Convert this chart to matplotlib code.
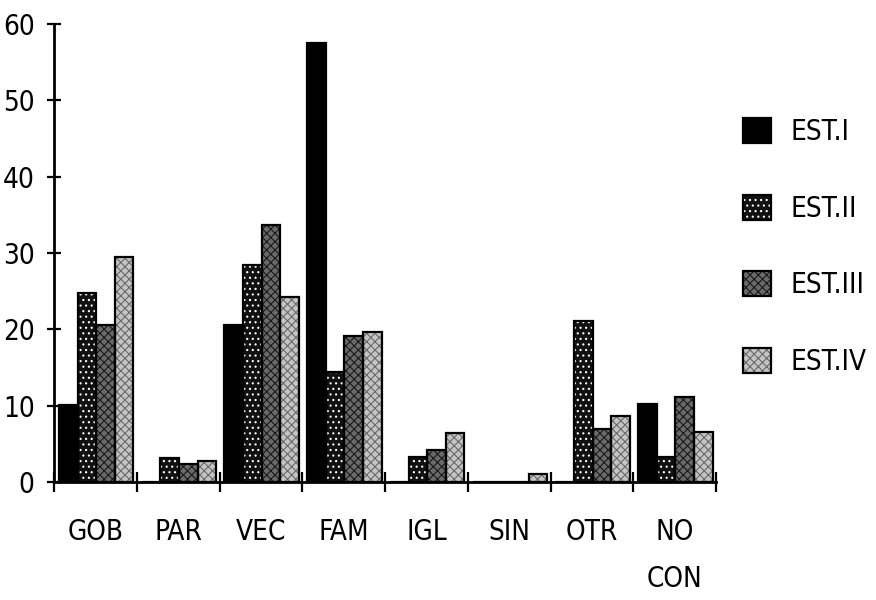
import numpy as np
import matplotlib
matplotlib.use("Agg")
import matplotlib.pyplot as plt

categories = ["GOB", "PAR", "VEC", "FAM", "IGL", "SIN", "OTR", "NO\nCON"]
series_names = ["EST.I", "EST.II", "EST.III", "EST.IV"]
est_i = [10.1, 0, 20.6, 57.5, 0, 0, 0, 10.2]
est_ii = [24.7, 3.1, 28.4, 14.4, 3.3, 0, 21.1, 3.3]
est_iii = [20.6, 2.3, 33.7, 19.1, 4.2, 0, 7.0, 11.2]
est_iv = [29.5, 2.7, 24.2, 19.6, 6.4, 1.1, 8.6, 6.5]
series = [est_i, est_ii, est_iii, est_iv]
yticks = [0, 10, 20, 30, 40, 50, 60]

plt.rcParams['hatch.linewidth'] = 0.8
FAM = ['Liberation Sans Narrow', 'DejaVu Sans']
fprops = dict(family=FAM, stretch='condensed')

# (face, hatch, hatch colour)
styles = [
    ('black', None, None),
    ('#111111', '...', 'white'),
    ('#6a6a6a', 'xxxx', '#1a1a1a'),
    ('#c4c4c4', 'xxxx', '#6a6a6a'),
]

fig = plt.figure(figsize=(8.76, 6.0), dpi=100)
ax = fig.add_axes([54/876, 1-482/600, (716-54)/876, (482-24)/600])

x = np.arange(len(categories))
w = 0.225
handles = []
for i, (vals, (fc, hatch, hc)) in enumerate(zip(series, styles)):
    pos = x + (i - 1.5) * w + 0.01
    b1 = ax.bar(pos, vals, w, color=fc, edgecolor=hc if hc else fc,
                hatch=hatch, linewidth=0, zorder=2)
    b2 = ax.bar(pos, vals, w, fill=False, edgecolor='black',
                linewidth=1.6, zorder=3)
    handles.append((b1[0], b2[0]))

ax.set_xlim(-0.5, len(categories) - 0.5)
ax.set_ylim(0, 60)
ax.set_yticks(yticks)
ax.set_yticklabels([str(t) for t in yticks], fontsize=20, **fprops)
ax.set_xticks(x)
ax.set_xticklabels(categories, fontsize=20, linespacing=1.85, **fprops)
ax.set_xticks(np.arange(len(categories) + 1) - 0.5, minor=True)
ax.tick_params(axis='x', which='major', length=0, pad=26)
ax.tick_params(axis='x', which='minor', length=14, width=1.6,
               direction='inout', color='black')
ax.tick_params(axis='y', length=10, width=1.6, direction='inout', pad=9)

for s in ['top', 'right']:
    ax.spines[s].set_visible(False)
for s in ['left', 'bottom']:
    ax.spines[s].set_linewidth(2)
    ax.spines[s].set_zorder(4)

leg = fig.legend(handles, series_names, loc='upper left',
                 bbox_to_anchor=(743/876, 1-118/600),
                 frameon=False, borderpad=0, borderaxespad=0,
                 handlelength=1.0, handleheight=1.0, handletextpad=0.7,
                 labelspacing=1.75, prop=dict(size=20, **fprops))

fig.savefig("out.png", dpi=100, facecolor='white')
